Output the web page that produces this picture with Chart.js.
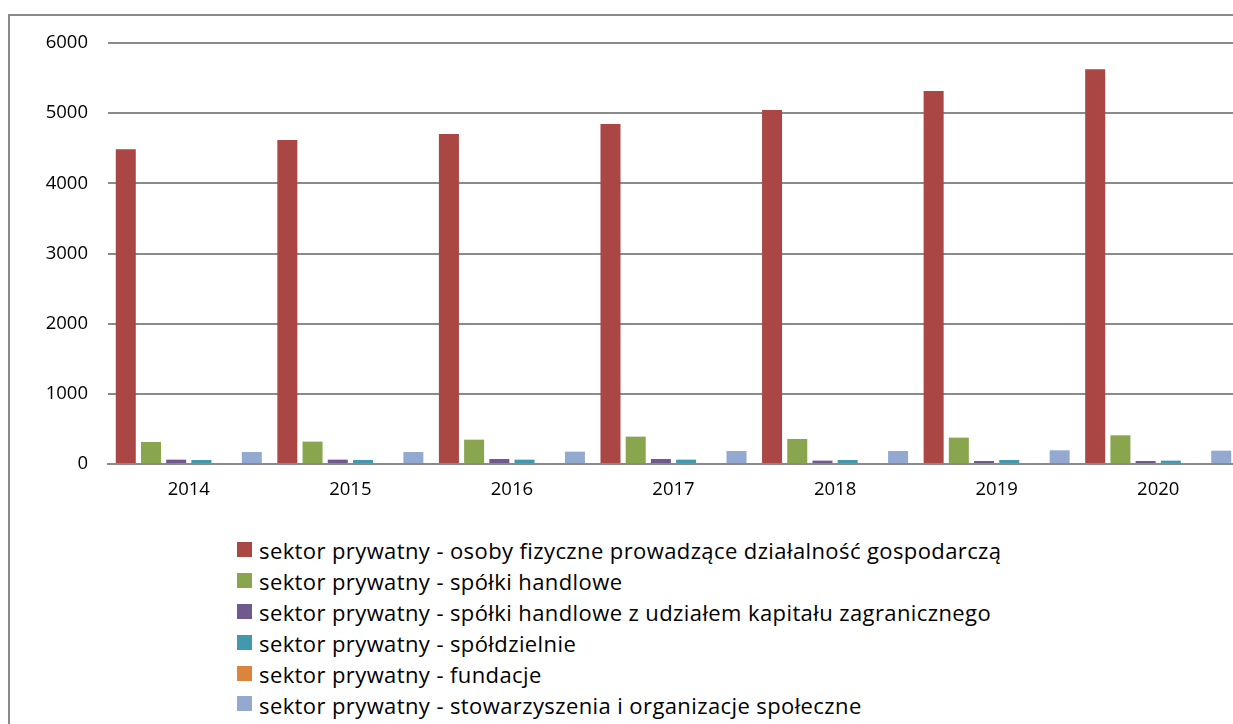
<!DOCTYPE html>
<html>
<head>
<meta charset="utf-8">
<script src="https://cdn.jsdelivr.net/npm/chart.js@4/dist/chart.umd.min.js"></script>
<style>
  html, body { margin: 0; padding: 0; background: #fff; overflow: hidden; width: 1233px; height: 724px; }
  #frame { position: absolute; left: 8px; top: 14px; width: 1400px; height: 900px;
           border-left: 2px solid #8a8a8a; border-top: 2px solid #8a8a8a; box-sizing: border-box; }
  #wrap { position: absolute; left: 0; top: 0; width: 1239px; height: 504px; }
  #legend { position: absolute; left: 237px; top: 534px; font-family: "Open Sans", sans-serif;
            font-size: 22px; letter-spacing: 0.4px; color: #000; }
  #legend .row { height: 30.9px; display: flex; align-items: center; white-space: nowrap; }
  #legend .box { width: 15px; height: 15px; margin-right: 7px; flex: none; }
  #legend .txt { position: relative; top: 1px; }
</style>
</head>
<body>
<div id="frame"></div>
<div id="wrap"><canvas id="c" width="1239" height="504"></canvas></div>
<div id="legend"></div>
<script>
const categories = ["2014", "2015", "2016", "2017", "2018", "2019", "2020"];
const seriesNames = [
  "sektor prywatny - osoby fizyczne prowadzące działalność gospodarczą",
  "sektor prywatny - spółki handlowe",
  "sektor prywatny - spółki handlowe z udziałem kapitału zagranicznego",
  "sektor prywatny - spółdzielnie",
  "sektor prywatny - fundacje",
  "sektor prywatny - stowarzyszenia i organizacje społeczne"
];
const osobyFizyczne = [4485, 4618, 4703, 4846, 5046, 5317, 5626];
const spolkiHandlowe = [314, 319, 347, 390, 357, 376, 409];
const spolkiZagraniczne = [62, 62, 71, 71, 48, 43, 43];
const spoldzielnie = [57, 57, 62, 62, 57, 57, 48];
const fundacje = [0, 0, 0, 0, 0, 12, 12];
const stowarzyszenia = [171, 171, 176, 185, 185, 195, 190];
const yTicks = [0, 1000, 2000, 3000, 4000, 5000, 6000];
const colors = ["#AA4643", "#89A54E", "#71588F", "#4198AF", "#DB843D", "#93A9CF"];

const seriesValues = [osobyFizyczne, spolkiHandlowe, spolkiZagraniczne, spoldzielnie, fundacje, stowarzyszenia];
const datasets = seriesValues.map((vals, i) => ({
  label: seriesNames[i],
  data: vals,
  backgroundColor: colors[i],
  borderWidth: 0,
  categoryPercentage: 0.936,
  barPercentage: 0.794
}));

const axisFont = { family: "'Open Sans', sans-serif", size: 18.5 };
const gridColor = "#8a8a8a";

const chart = new Chart(document.getElementById("c"), {
  type: "bar",
  data: { labels: categories, datasets: datasets },
  options: {
    responsive: false,
    animation: false,
    layout: { padding: { top: 43, left: 0, right: 0, bottom: 0 } },
    plugins: { legend: { display: false }, tooltip: { enabled: false } },
    scales: {
      x: {
        grid: { display: false, drawTicks: false },
        border: { display: true, color: gridColor, width: 2 },
        ticks: { color: "#000", font: axisFont, padding: 15, maxRotation: 0 },
        afterFit: s => { s.height = 40; }
      },
      y: {
        min: 0, max: 6000,
        afterBuildTicks: s => { s.ticks = yTicks.map(v => ({ value: v })); },
        grid: { color: gridColor, lineWidth: 2, drawTicks: false },
        border: { display: false },
        ticks: { color: "#000", font: axisFont, padding: 20, callback: v => String(v) },
        afterFit: s => { s.width = 108; }
      }
    }
  }
});

const legendEl = document.getElementById("legend");
chart.data.datasets.forEach(ds => {
  const row = document.createElement("div");
  row.className = "row";
  const box = document.createElement("span");
  box.className = "box";
  box.style.background = ds.backgroundColor;
  const txt = document.createElement("span");
  txt.className = "txt";
  txt.textContent = ds.label;
  row.appendChild(box);
  row.appendChild(txt);
  legendEl.appendChild(row);
});
</script>
</body>
</html>
